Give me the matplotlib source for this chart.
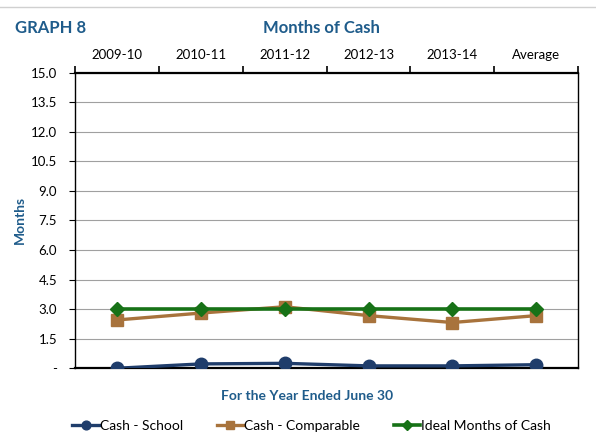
import matplotlib.pyplot as plt
from matplotlib.lines import Line2D

years = ['2009-10', '2010-11', '2011-12', '2012-13', '2013-14', 'Average']
cash_school = [0.0, 0.22, 0.25, 0.12, 0.12, 0.18]
cash_comparable = [2.45, 2.8, 3.12, 2.67, 2.32, 2.67]
ideal_cash = [3.0, 3.0, 3.0, 3.0, 3.0, 3.0]
yticks = [0, 1.5, 3.0, 4.5, 6.0, 7.5, 9.0, 10.5, 12.0, 13.5, 15.0]
ylabels = ['-'] + ['%.1f' % v for v in yticks[1:]]

blue = '#1F5C8B'
plt.rcParams['font.family'] = ['Lato', 'DejaVu Sans']

fig = plt.figure(figsize=(5.96, 4.48), dpi=100)
ax = fig.add_axes([0.126, 0.178, 0.844, 0.660])

x = list(range(len(years)))
ax.plot(x, cash_school, color='#1F3D6B', lw=2.4, marker='o', ms=9, label='Cash - School', zorder=3)
ax.plot(x, cash_comparable, color='#A8733C', lw=2.4, marker='s', ms=8.5, label='Cash - Comparable', zorder=4)
ax.plot(x, ideal_cash, color='#177217', lw=2.6, marker='D', ms=7.5, label='Ideal Months of Cash', zorder=5)

ax.set_xlim(-0.5, 5.5)
ax.set_ylim(0, 15)
ax.set_yticks(yticks)
ax.set_yticklabels(ylabels, fontsize=9.5)
ax.yaxis.grid(True, color='#A0A0A0', lw=0.8)
ax.set_axisbelow(True)
ax.tick_params(axis='y', length=4.5, color='black', pad=8.5)

ax.xaxis.tick_top()
ax.set_xticks(x)
ax.set_xticklabels(years, fontsize=9.5)
ax.tick_params(axis='x', which='major', length=0, pad=8)
ax.set_xticks([i - 0.5 for i in range(len(years) + 1)], minor=True)
ax.tick_params(axis='x', which='minor', length=5, direction='out', color='black', width=1.2)

for side in ['top', 'bottom']:
    ax.spines[side].set_linewidth(1.6)
for side in ['left', 'right']:
    ax.spines[side].set_linewidth(1.0)

fig.text(20 / 596, 0.51, 'Months', color=blue, fontsize=10, fontweight='bold',
         rotation=90, ha='center', va='center')
fig.text(0.025, 0.937, 'GRAPH 8', color=blue, fontsize=12, fontweight='bold', va='center')
fig.text(0.54, 0.937, 'Months of Cash', color=blue, fontsize=12, fontweight='bold', ha='center', va='center')
fig.text(0.516, 0.116, 'For the Year Ended June 30', color=blue, fontsize=10, fontweight='bold',
         ha='center', va='center')
fig.add_artist(Line2D([0, 1], [0.985, 0.985], color='#D0D0D0', lw=1.0))

fig.legend(loc='center', bbox_to_anchor=(0.523, 0.049), ncol=3, frameon=False,
           fontsize=10, handlelength=1.9, handletextpad=0.1, columnspacing=2.4, markerscale=0.7)

fig.savefig('out.png', dpi=100)
